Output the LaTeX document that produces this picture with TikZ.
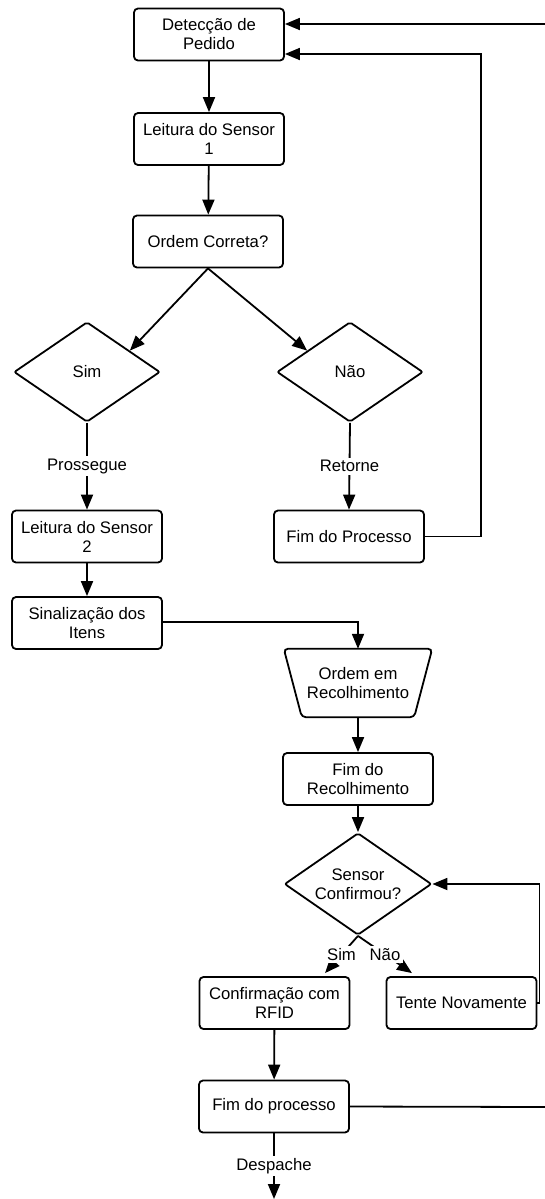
\documentclass[tikz,border=0pt]{standalone}
\usepackage{fontspec}
\setmainfont{Liberation Sans}
\usetikzlibrary{arrows.meta,shapes.geometric,calc}
\begin{document}
\begin{tikzpicture}[x=1bp,y=-1bp,
  every node/.style={font=\fontsize{16.7bp}{19bp}\selectfont},
  procbox/.style={draw, line width=1.8bp, rounded corners=4bp, minimum width=150bp, minimum height=52bp, align=center, inner sep=0pt},
  decbox/.style={draw, diamond, line width=1.8bp, rounded corners=2bp, minimum width=146bp, minimum height=100bp, align=center, inner sep=0pt, aspect=1.46},
  conn/.style={line width=1.8bp, -{Triangle[length=15bp,width=12bp]}},
  plainline/.style={line width=1.8bp},
  lbl/.style={fill=white, inner sep=2.5bp}
]
\useasboundingbox (0,0) rectangle (545,1199);

\node[procbox] (det) at (209,34.5) {Detecção de\\Pedido};
\node[procbox] (ls1) at (209,139) {Leitura do Sensor\\1};
\node[procbox] (oc) at (208,241.5) {Ordem Correta?};
\node[decbox] (sim) at (87,372) {Sim};
\node[decbox] (nao) at (350,372) {Não};
\node[procbox] (ls2) at (87,536.5) {Leitura do Sensor\\2};
\node[procbox] (fim) at (349,536.5) {Fim do Processo};
\node[procbox] (sin) at (87,623) {Sinalização dos\\Itens};
\node[minimum width=148bp, minimum height=68bp, inner sep=0pt, align=center] (ord) at (358,683) {Ordem em\\Recolhimento};
\draw[line width=1.8bp, rounded corners=4bp] (ord.north west) -- (ord.north east) -- ($(ord.south east)+(-18,0)$) -- ($(ord.south west)+(18,0)$) -- cycle;
\node[procbox] (fre) at (358,779) {Fim do\\Recolhimento};
\node[decbox, minimum width=147bp, minimum height=102bp] (sc) at (358,884) {Sensor\\Confirmou?};
\node[procbox] (conf) at (274.5,1003) {Confirmação com\\RFID};
\node[procbox] (tn) at (461.5,1003) {Tente Novamente};
\node[procbox] (fp) at (274,1106.5) {Fim do processo};
\coordinate (topin) at (545,24);
\coordinate (fpout) at (545,1107);
\coordinate (bottomend) at (274,1199);

\draw[conn] (det) -- (ls1);
\draw[conn] (ls1) -- (oc);
\draw[conn] (oc.south) -- ($(sim.north)!0.58!(sim.east)$);
\draw[conn] (oc.south) -- ($(nao.north)!0.58!(nao.west)$);
\draw[conn] (sim.south) -- node[lbl]{Prossegue} (ls2.north);
\draw[conn] (nao.south) -- node[lbl]{Retorne} (fim.north);
\draw[conn] (fim.east) -| ($(det.east)+(196,19.5)$) -- ($(det.east)+(0,19.5)$);
\draw[conn] (topin) -- (topin -| det.east);
\draw[conn] (ls2) -- (sin);
\draw[conn] ($(sin.east)+(0,-1)$) -| (ord.north);
\draw[conn] (ord.south) -- (fre.north);
\draw[conn] (fre) -- (sc);
\draw[conn] (sc.south) -- node[lbl]{Sim} ($(conf.north)+(50.5,-3)$);
\draw[conn] (sc.south) -- node[lbl]{Não} ($(tn.north)+(-49.5,-3)$);
\draw[conn] (tn.east) -- ++(2,0) |- (sc.east);
\draw[conn] (conf) -- (fp);
\draw[plainline] (fp.east) -- (fpout);
\draw[conn] (fp.south) -- node[lbl]{Despache} (bottomend);
\end{tikzpicture}
\end{document}
